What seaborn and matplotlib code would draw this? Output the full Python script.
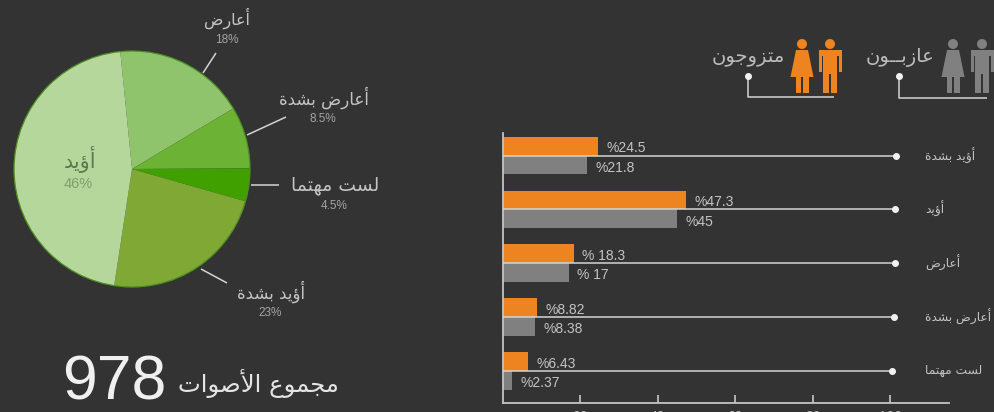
import pandas as pd
import seaborn as sns
import matplotlib.pyplot as plt
from matplotlib.patches import Circle, Polygon

BG = '#333333'
ORANGE = '#ee8420'
GREY = '#808080'
LIGHT = '#d4d4d4'

# pie values
pie_labels = ['أعارض', 'أعارض بشدة', 'لست مهتما', 'أؤيد بشدة', 'أؤيد']
pie_values = [18, 8.5, 4.5, 23, 46]
pie_texts = ['18%', '8.5%', '4.5%', '23%', '46%']
pie_colors = ['#90c46c', '#6cb234', '#3fa000', '#80a834', '#b6d79c']
total_votes = '978'
total_label = 'مجموع الأصوات'

# bar values
categories = ['أؤيد بشدة', 'أؤيد', 'أعارض', 'أعارض بشدة', 'لست مهتما']
married = [24.5, 47.3, 18.3, 8.82, 6.43]
single = [21.8, 45, 17, 8.38, 2.37]
married_labels = ['%24.5', '%47.3', '% 18.3', '%8.82', '%6.43']
single_labels = ['%21.8', '%45', '% 17', '%8.38', '%2.37']
line_ends = [101.5, 101.2, 101.2, 100.9, 100.5]
x_ticks = [20, 40, 60, 80, 100]
married_name = 'متزوجون'
single_name = 'عازبــون'

# matplotlib does not shape arabic, so map letters to presentation forms
DUAL = {'ب': 0xFE8F, 'ت': 0xFE95, 'ج': 0xFE9D, 'س': 0xFEB1, 'ش': 0xFEB5, 'ص': 0xFEB9,
        'ض': 0xFEBD, 'ع': 0xFEC9, 'ل': 0xFEDD, 'م': 0xFEE1, 'ن': 0xFEE5, 'ه': 0xFEE9, 'ي': 0xFEF1}
RIGHT = {'أ': 0xFE83, 'ؤ': 0xFE85, 'ا': 0xFE8D, 'ة': 0xFE93, 'د': 0xFEA9, 'ر': 0xFEAD,
         'ز': 0xFEAF, 'و': 0xFEED, '\uFEF7': 0xFEF7, '\uFEFB': 0xFEFB}

def shape(text):
    text = text.replace('لأ', '\uFEF7').replace('لا', '\uFEFB')
    out = []
    for i, c in enumerate(text):
        prev_joins = i > 0 and (text[i - 1] in DUAL or text[i - 1] == 'ـ')
        next_joins = i < len(text) - 1 and (text[i + 1] in DUAL or text[i + 1] in RIGHT or text[i + 1] == 'ـ')
        if c in DUAL:
            offset = {(0, 0): 0, (1, 0): 1, (0, 1): 2, (1, 1): 3}[(int(prev_joins), int(next_joins))]
            out.append(chr(DUAL[c] + offset))
        elif c in RIGHT:
            out.append(chr(RIGHT[c] + int(prev_joins)))
        else:
            out.append(c)
    return ''.join(out)[::-1]

sns.set_theme(style='dark', rc={'figure.facecolor': BG, 'axes.facecolor': BG, 'savefig.facecolor': BG})
plt.rcParams['font.family'] = ['Liberation Sans', 'DejaVu Sans']

W, H = 995, 412
fig = plt.figure(figsize=(W / 100, H / 100), dpi=100)

def px_axes(left, top, right, bottom):
    return fig.add_axes([left / W, 1 - bottom / H, (right - left) / W, (bottom - top) / H])

# overlay in pixel coordinates for annotations
over = px_axes(0, 0, W, H)
over.set_xlim(0, W)
over.set_ylim(H, 0)
over.axis('off')
over.set_zorder(10)

def arabic(x, y, s, size, color=LIGHT):
    over.text(x, y, shape(s), fontsize=size, color=color, ha='center', va='center',
              family='DejaVu Sans', zorder=5)

def leader(xs, ys, color=LIGHT):
    over.plot(xs, ys, color=color, lw=1.1, solid_capstyle='butt', zorder=4)

# pie
pie_ax = px_axes(12, 49, 252, 289)
pie_ax.set_facecolor('none')
pie_ax.pie(pie_values, colors=pie_colors, startangle=95.7, counterclock=False, radius=1,
           wedgeprops={'linewidth': 0})
pie_ax.add_patch(Circle((0, 0), 1, fill=False, ec='#4f8f22', lw=0.9))
pie_ax.set_xlim(-1.017, 1.017)
pie_ax.set_ylim(-1.017, 1.017)

pie_text_pos = [(227, 18, 227, 40), (324, 98, 323, 119), (335, 185, 334, 206),
                (271, 292, 270, 313), (80, 159, 78, 184)]
pie_label_sizes = [11.5, 12, 13.5, 12, 15]
pie_value_sizes = [8.5, 8.5, 8.5, 8.5, 10.5]
for i, (lx, ly, vx, vy) in enumerate(pie_text_pos):
    label_color = '#5d7a4c' if i == 4 else '#c4c4c4'
    value_color = '#7f9f6c' if i == 4 else '#a4a4a4'
    arabic(lx, ly, pie_labels[i], pie_label_sizes[i], label_color)
    over.text(vx, vy, pie_texts[i], fontsize=pie_value_sizes[i], color=value_color, ha='center', va='center')

leader([203, 216], [73, 53])
leader([247, 286], [135, 117])
leader([251, 279], [185, 185])
leader([201, 227], [269, 283])

over.text(114.5, 383, total_votes, fontsize=45, color='#f0f0f0', ha='center', va='center')
arabic(258, 383, total_label, 17.5, '#e4e4e4')

# bars
df = pd.DataFrame({'category': categories, 'married': married, 'single': single})
df = df.melt(id_vars='category', var_name='status', value_name='value')

ax = px_axes(503, 133, 949, 402.7)
sns.barplot(data=df, y='category', x='value', hue='status', order=categories,
            hue_order=['married', 'single'], palette=[ORANGE, GREY], width=0.7,
            saturation=1, legend=False, linewidth=0, ax=ax)
ax.set_xlim(0, 115.2)
ax.set_ylim(4.59, -0.42)
ax.set_xlabel('')
ax.set_ylabel('')
ax.set_yticks([])
ax.set_xticks(x_ticks)
ax.tick_params(axis='x', direction='in', length=5.8, width=1.1, color=LIGHT, labelcolor='#b8b8b8',
               labelsize=10, pad=5, bottom=True)
sns.despine(ax=ax)
for side in ['left', 'bottom']:
    ax.spines[side].set_color('#c4c4c4')
    ax.spines[side].set_linewidth(1.3)

for container, labels, dy in zip(ax.containers, [married_labels, single_labels], [-1.5, -2]):
    for t in ax.bar_label(container, labels=labels, padding=6, fontsize=10, color='#c4c4c4'):
        t.xyann = (t.xyann[0], dy)

for i, end in enumerate(line_ends):
    ax.plot([0, end], [i, i], color=LIGHT, lw=1.1, zorder=3)
    ax.plot([end], [i], 'o', color='#f2f2f2', ms=4, zorder=4)
    ax.text(109, i, shape(categories[i]), fontsize=8.8, color='#c4c4c4', ha='left', va='center',
            family='DejaVu Sans', clip_on=False)

# legend figures
def woman(cx, color):
    over.add_patch(Circle((cx, 44), 5, color=color, lw=0, zorder=4))
    over.add_patch(Polygon([(cx - 6, 50), (cx + 6, 50), (cx + 11.5, 77), (cx + 7, 77), (cx + 7, 93),
                            (cx + 1, 93), (cx + 1, 77), (cx - 1, 77), (cx - 1, 93), (cx - 6, 93),
                            (cx - 6, 77), (cx - 11.5, 77)], color=color, lw=0, zorder=4))

def man(cx, color):
    over.add_patch(Circle((cx, 44), 5, color=color, lw=0, zorder=4))
    over.add_patch(Polygon([(cx - 11.5, 50), (cx + 11.5, 50), (cx + 11.5, 72), (cx + 8.5, 72), (cx + 8.5, 56),
                            (cx + 7, 56), (cx + 7, 93), (cx + 1, 93), (cx + 1, 74), (cx - 1, 74),
                            (cx - 1, 93), (cx - 7, 93), (cx - 7, 56), (cx - 8.5, 56), (cx - 8.5, 72),
                            (cx - 11.5, 72)], color=color, lw=0, zorder=4))

woman(802, ORANGE)
man(830, ORANGE)
woman(953, GREY)
man(982, GREY)
arabic(748, 57, married_name, 14, '#bcbcbc')
arabic(900, 57, single_name, 14, '#bcbcbc')
leader([748, 748, 834], [76, 97, 97])
leader([899, 899, 987], [76, 98, 98])
over.plot([748, 899], [76, 76], 'o', color='#f2f2f2', ms=4, zorder=5, ls='none')

fig.savefig('out.png', dpi=100)
